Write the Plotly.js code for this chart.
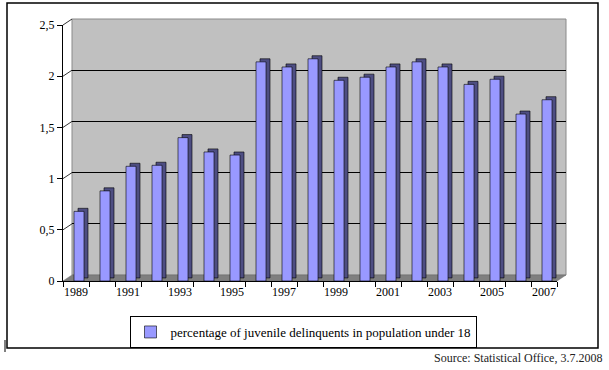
<!DOCTYPE html>
<html>
<head>
<meta charset="utf-8">
<script src="https://cdn.plot.ly/plotly-3.0.1.min.js"></script>
<style>html,body{margin:0;padding:0;background:#fff;}#chart{width:609px;height:370px;}</style>
</head>
<body>
<div id="chart"></div>
<script>
const years = [1989,1990,1991,1992,1993,1994,1995,1996,1997,1998,1999,2000,2001,2002,2003,2004,2005,2006,2007];
const values = [0.68,0.88,1.12,1.13,1.40,1.26,1.23,2.14,2.09,2.17,1.96,1.99,2.09,2.14,2.09,1.92,1.97,1.63,1.77];
const yTicks = [0,0.5,1,1.5,2,2.5];
const xTickVals = [1989,1991,1993,1995,1997,1999,2001,2003,2005,2007];
const xTickText = xTickVals.map(String);
const seriesName = 'percentage of juvenile delinquents in population under 18';
const sourceText = 'Source: Statistical Office, 3.7.2008';

// geometry helpers (paper area: x 63..566, y 19..281)
const W = 503, H = 262;
const dx = 9 / W, dy = 6 / H;
const serif = 'Times New Roman, Liberation Serif, DejaVu Serif, Tinos, serif';

const traces = [
  {x: [], y: [], type: 'scatter', xaxis: 'x', yaxis: 'y', showlegend: false, hoverinfo: 'skip'},
  {x: years, y: values, type: 'bar', xaxis: 'x2', yaxis: 'y2', base: 0.03,
   width: 0.385, offset: 0.077, showlegend: false, hoverinfo: 'skip',
   marker: {color: '#4e4e82', line: {color: '#000', width: 0.6}}},
  {x: years, y: values, type: 'bar', xaxis: 'x2', yaxis: 'y2', name: seriesName,
   width: 0.385, offset: -0.077,
   marker: {color: '#9999ff', line: {color: '#000', width: 0.6}}}
];

const shapes = [
  {type: 'rect', xref: 'paper', yref: 'paper', x0: dx, x1: 1, y0: dy, y1: 1,
   fillcolor: '#c0c0c0', line: {color: '#8a8a8a', width: 1}, layer: 'below'},
  {type: 'path', xref: 'paper', yref: 'paper',
   path: `M 0 0 L ${494/W} 0 L 1 ${dy} L ${dx} ${dy} Z`,
   fillcolor: '#7f7f7f', line: {color: '#6a6a6a', width: 0.5}, layer: 'below'},
  {type: 'rect', xref: 'paper', yref: 'paper', x0: (7-63)/W, x1: (598-63)/W,
   y0: (281-348)/H, y1: (281-3)/H, line: {color: '#000', width: 1.5}, fillcolor: 'rgba(0,0,0,0)'},
  {type: 'line', xref: 'paper', yref: 'paper', x0: (5-63)/W, x1: (5-63)/W,
   y0: (281-340)/H, y1: (281-352)/H, line: {color: '#000', width: 1}}
];
yTicks.slice(1).forEach(v => {
  const yp = v / 2.5 * (256 / H);
  shapes.push({type: 'line', xref: 'paper', yref: 'paper', x0: 0, x1: dx, y0: yp, y1: yp + dy,
    line: {color: '#000', width: 0.8}});
});

const layout = {
  width: 609, height: 370,
  margin: {l: 63, r: 43, t: 19, b: 89, pad: 0},
  paper_bgcolor: '#fff', plot_bgcolor: 'rgba(0,0,0,0)',
  separators: ', ',
  font: {family: serif, size: 12, color: '#000'},
  barmode: 'overlay',
  showlegend: true,
  xaxis: {domain: [dx, 1], range: [1988.5, 2007.5], showgrid: false, zeroline: false,
    showticklabels: false, ticks: '', showline: false, fixedrange: true},
  yaxis: {domain: [dy, 1], range: [0, 2.5], tickvals: yTicks, showgrid: true, gridcolor: '#000',
    gridwidth: 1, zeroline: false, showticklabels: false, ticks: '', showline: false, fixedrange: true},
  xaxis2: {domain: [0, 494/W], anchor: 'y2', range: [1988.5, 2007.5], showgrid: false, zeroline: false,
    tickvals: xTickVals, ticktext: xTickText, ticks: '', showline: true, linecolor: '#000', linewidth: 1,
    tickfont: {family: serif, size: 12, color: '#000'},
    minor: {ticks: 'outside', ticklen: 5, tickcolor: '#000', tick0: 1988.5, dtick: 1, showgrid: false},
    fixedrange: true},
  yaxis2: {domain: [0, 256/H], anchor: 'x2', range: [0, 2.5], tickvals: yTicks, showgrid: false,
    zeroline: false, ticks: 'outside', ticklen: 5, tickcolor: '#000', showline: true, linecolor: '#000',
    linewidth: 1, tickfont: {family: serif, size: 12, color: '#000'}, fixedrange: true},
  legend: {x: (303-63)/W, xanchor: 'center', y: (281-316)/H, yanchor: 'top',
    bordercolor: '#000', borderwidth: 1, bgcolor: '#fff',
    font: {family: serif, size: 13, color: '#000'}, itemwidth: 30},
  shapes: shapes,
  annotations: [
    {text: sourceText, xref: 'paper', yref: 'paper', x: (604-63)/W, xanchor: 'right',
     y: (281-358)/H, yanchor: 'middle', showarrow: false,
     font: {family: serif, size: 12, color: '#222'}}
  ]
};

Plotly.newPlot('chart', traces, layout, {displayModeBar: false, staticPlot: true});
</script>
</body>
</html>
